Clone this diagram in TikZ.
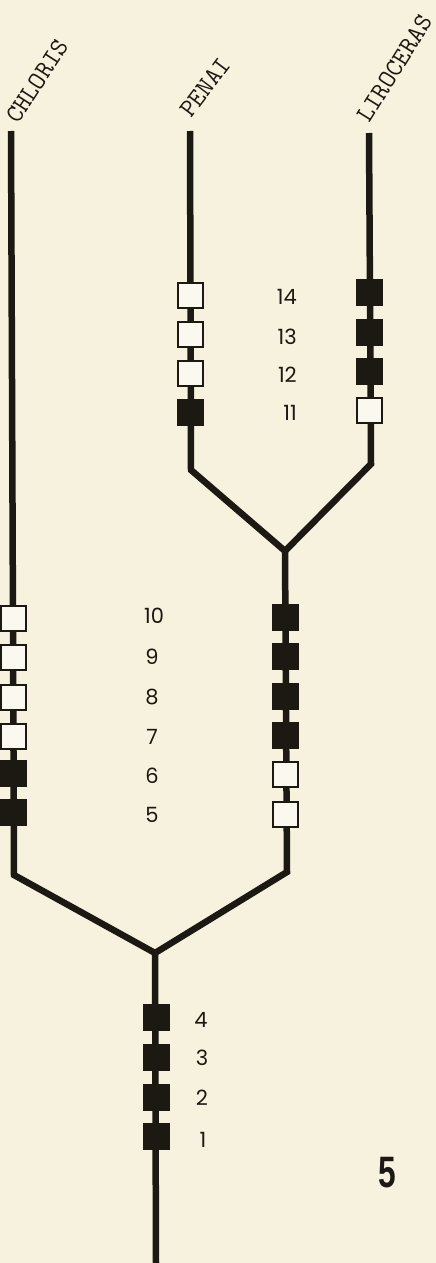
\documentclass[tikz,border=0pt]{standalone}
\usepackage{fontspec}
\newfontfamily\numfont{Poppins}
\newfontfamily\figfont{Liberation Sans}
\definecolor{bg}{RGB}{247,242,221}
\definecolor{ink}{RGB}{28,24,18}
\definecolor{boxw}{RGB}{251,249,239}
\begin{document}
\begin{tikzpicture}[x=1pt,y=-1pt,
  branch/.style={draw=ink,line width=6.5pt,line join=miter},
  fullbox/.style={draw=ink,fill=ink,line width=2pt,minimum size=25pt,inner sep=0pt},
  openbox/.style={draw=ink,fill=boxw,line width=2pt,minimum size=25pt,inner sep=0pt},
  num/.style={font=\numfont\fontsize{21}{21}\selectfont,text=ink,inner sep=0pt},
  taxon/.style={font=\ttfamily\fontsize{26}{26}\selectfont,anchor=base west,text=ink,inner sep=0pt}]
\fill[bg] (0,0) rectangle (436,1263);
\useasboundingbox (0,0) rectangle (436,1263);
% branch points
\coordinate (ct) at (11,131);
\coordinate (cb) at (14,875);
\coordinate (pt) at (190,131);
\coordinate (pb) at (191,470);
\coordinate (lt) at (369,133);
\coordinate (lb) at (371,464);
\coordinate (j1) at (285,551);
\coordinate (mb) at (287,872);
\coordinate (j2) at (155,953);
\coordinate (rb) at (156,1263);
% lines
\draw[branch] (pt) -- (pb) -- (j1) -- (mb) -- (j2) -- (rb);
\draw[branch] (lt) -- (lb) -- (j1);
\draw[branch] (ct) -- (cb) -- (j2);
% Penai boxes
\node[openbox] (p14) at (190,295) {};
\node[openbox] (p13) at (190,334) {};
\node[openbox] (p12) at (190,373) {};
\node[fullbox] (p11) at (190,412) {};
% Liroceras boxes
\node[fullbox] (l14) at (369,292) {};
\node[fullbox] (l13) at (369,332) {};
\node[fullbox] (l12) at (369,371) {};
\node[openbox] (l11) at (369,410) {};
% labels 11-14
\node[num,anchor=east] (n14) at (297,297) {14};
\node[num,anchor=east] (n13) at (297,337) {13};
\node[num,anchor=east] (n12) at (297,375) {12};
\node[num,anchor=east] (n11) at (297,413) {11};
% Chloris boxes
\node[openbox] (c10) at (13,618) {};
\node[openbox] (c9) at (13,657) {};
\node[openbox] (c8) at (13,697) {};
\node[openbox] (c7) at (13,736) {};
\node[fullbox] (c6) at (13,773) {};
\node[fullbox] (c5) at (13,812) {};
% middle boxes
\node[fullbox] (m10) at (285,617) {};
\node[fullbox] (m9) at (285,656) {};
\node[fullbox] (m8) at (285,696) {};
\node[fullbox] (m7) at (285,735) {};
\node[openbox] (m6) at (285,774) {};
\node[openbox] (m5) at (285,814) {};
% labels 5-10
\node[num] (n10) at (154,616) {10};
\node[num] (n9) at (152,657) {9};
\node[num] (n8) at (152,697) {8};
\node[num] (n7) at (152,737) {7};
\node[num] (n6) at (152,776) {6};
\node[num] (n5) at (152,815) {5};
% trunk boxes
\node[fullbox] (t4) at (156,1017) {};
\node[fullbox] (t3) at (156,1057) {};
\node[fullbox] (t2) at (156,1097) {};
\node[fullbox] (t1) at (156,1136) {};
\node[num] (n4) at (201,1020) {4};
\node[num] (n3) at (202,1058) {3};
\node[num] (n2) at (202,1098) {2};
\node[num] (n1) at (203,1140) {1};
% taxon names
\node[taxon,rotate=57] (chl) at (18,125) {CHLORIS};
\node[taxon,rotate=53] (pen) at (191,119) {PENAI};
\node[taxon,rotate=58] (lir) at (369,124) {LIROCERAS};
% figure number
\node[font=\figfont\bfseries\fontsize{44}{44}\selectfont,text=ink,xscale=0.72,inner sep=0pt] (fig) at (387,1173) {5};
\end{tikzpicture}
\end{document}
